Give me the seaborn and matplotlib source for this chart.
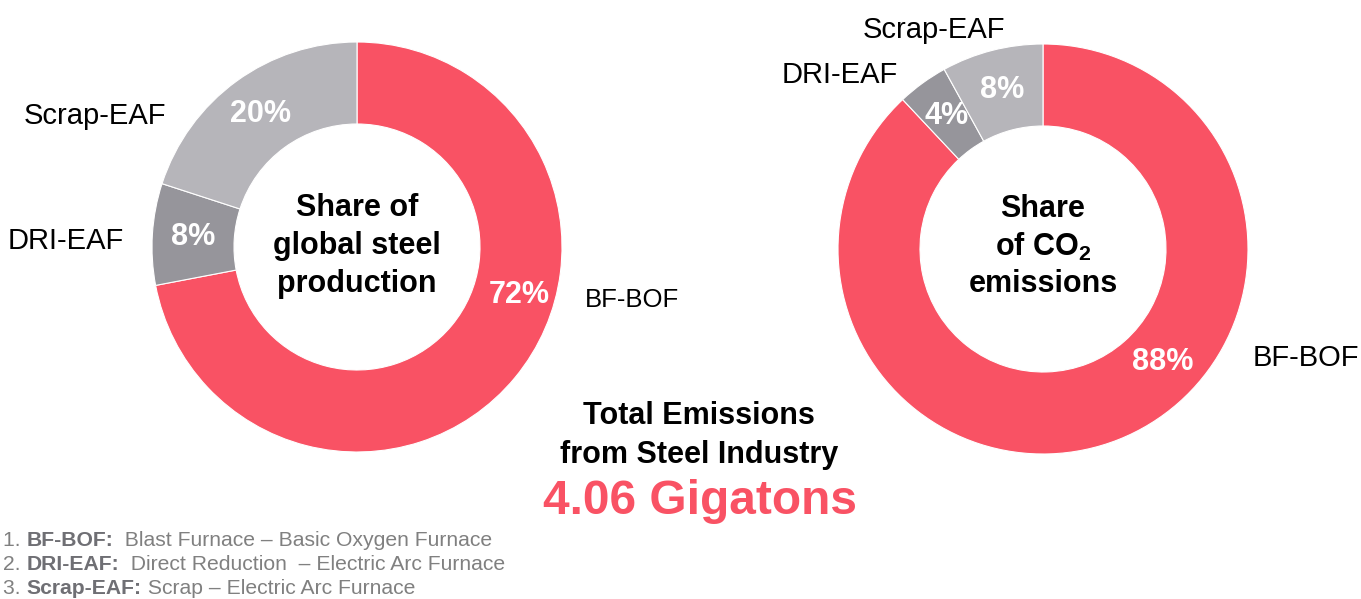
import matplotlib
matplotlib.use('Agg')
import matplotlib.pyplot as plt
import seaborn as sns

# data
techs = ['BF-BOF', 'DRI-EAF', 'Scrap-EAF']
production_share = [72, 8, 20]
emission_share = [88, 4, 8]
total_emissions_gt = 4.06
footnotes = [('1. ', 'BF-BOF:', '  Blast Furnace \u2013 Basic Oxygen Furnace'),
             ('2. ', 'DRI-EAF:', '  Direct Reduction  \u2013 Electric Arc Furnace'),
             ('3. ', 'Scrap-EAF:', ' Scrap \u2013 Electric Arc Furnace')]

sns.set_theme(style='white')
plt.rcParams['font.family'] = ['Liberation Sans', 'DejaVu Sans']
plt.rcParams['text.color'] = 'black'
plt.rcParams['mathtext.fontset'] = 'custom'
plt.rcParams['mathtext.rm'] = 'Liberation Sans:bold'
plt.rcParams['mathtext.bf'] = 'Liberation Sans:bold'

RED = '#f95264'
colors = sns.color_palette([RED, '#96959b', '#b6b5ba'])

W, H = 1361, 599
fig = plt.figure(figsize=(W / 100, H / 100), dpi=100)


def pie_axes(cx, cy, r):
    ax = fig.add_axes([(cx - r) / W, 1 - (cy + r) / H, 2 * r / W, 2 * r / H])
    return ax


def donut(ax, values, big_pct_pos, label_pos, label_sizes, title_lines, title_y):
    wedges, _, autotexts = ax.pie(values, colors=colors, startangle=90, counterclock=False,
                                  radius=1, autopct='%d%%', pctdistance=0.8,
                                  wedgeprops=dict(width=0.4, edgecolor='white', linewidth=0.8),
                                  textprops=dict(color='white', fontsize=22, fontweight='bold'))
    autotexts[0].set_position(big_pct_pos)
    for t in autotexts:
        t.set_ha('center')
        t.set_va('center')
    for name, pos, fs in zip(techs, label_pos, label_sizes):
        ax.text(pos[0], pos[1], name, ha='center', va='center', fontsize=fs, color='black', clip_on=False)
    for line, y in zip(title_lines, title_y):
        ax.text(0, y, line, ha='center', va='center', fontsize=22, fontweight='bold', color='black')
    ax.set_xlim(-1, 1)
    ax.set_ylim(-1, 1)
    ax.set_aspect('auto')
    ax.axis('off')


ax1 = pie_axes(357, 247, 205)
donut(ax1, production_share, (0.79, -0.235),
      [(1.34, -0.26), (-1.42, 0.03), (-1.28, 0.64)], [18.5, 21, 21],
      ['Share of', 'global steel', 'production'], [0.19, 0.005, -0.18])

ax2 = pie_axes(1043, 249, 205)
donut(ax2, emission_share, (0.585, -0.55),
      [(1.28, -0.53), (-0.99, 0.85), (-0.53, 1.07)], [21, 21, 21],
      ['Share', r'of CO$_\mathbf{2}$', 'emissions'], [0.195, 0.01, -0.17])

# centre text
fig.text(699 / W, 1 - 416 / H, 'Total Emissions', ha='center', va='center', fontsize=22,
         fontweight='bold', color='black')
fig.text(699 / W, 1 - 455 / H, 'from Steel Industry', ha='center', va='center', fontsize=22,
         fontweight='bold', color='black')
fig.text(700 / W, 1 - 502 / H, f'{total_emissions_gt:.2f} Gigatons', ha='center', va='center',
         fontsize=34.5, fontweight='bold', color=RED)

# footnotes with mixed weights
fig.canvas.draw()
renderer = fig.canvas.get_renderer()
for i, (num, key, desc) in enumerate(footnotes):
    y = 1 - (540 + 24.5 * i) / H
    x = 3 / W
    for part, weight, col in [(num, 'normal', '#808080'), (key, 'bold', '#6f6f74'), (desc, 'normal', '#808080')]:
        t = fig.text(x, y, part, ha='left', va='center', fontsize=15.2, fontweight=weight, color=col)
        bb = t.get_window_extent(renderer)
        x = bb.x1 / W

fig.savefig('out.png', dpi=100)
